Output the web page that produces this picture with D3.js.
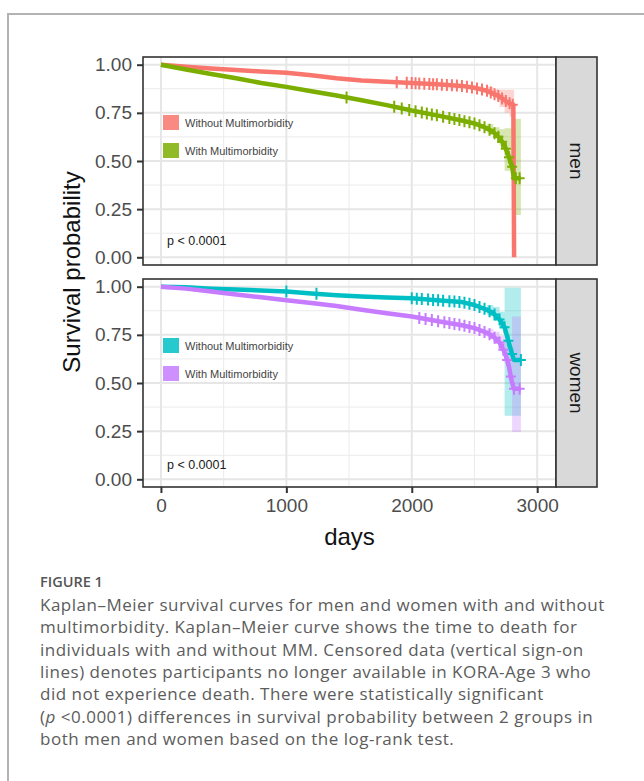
<!DOCTYPE html>
<html>
<head>
<meta charset="utf-8">
<script src="https://cdn.jsdelivr.net/npm/d3@7"></script>
<style>
  body { margin: 0; background: #fff; }
  svg { display: block; }
</style>
</head>
<body>
<svg width="644" height="781"></svg>
<script>
// survival curves
const menWithoutT = [0, 200, 400, 600, 800, 1000, 1200, 1400, 1600, 1800, 2000, 2200, 2400, 2500, 2600, 2650, 2700, 2740, 2780, 2810, 2816];
const menWithoutS = [1, 0.99, 0.98, 0.972, 0.965, 0.958, 0.945, 0.93, 0.918, 0.912, 0.905, 0.898, 0.89, 0.88, 0.865, 0.85, 0.835, 0.815, 0.8, 0.79, 0];
const menWithoutLo = [1, 0.987, 0.976, 0.967, 0.959, 0.951, 0.937, 0.921, 0.908, 0.901, 0.893, 0.885, 0.875, 0.862, 0.845, 0.83, 0.78, 0.75, 0.73, 0.73, 0];
const menWithoutHi = [1, 0.993, 0.984, 0.977, 0.971, 0.965, 0.953, 0.939, 0.928, 0.923, 0.917, 0.911, 0.905, 0.898, 0.885, 0.872, 0.87, 0.87, 0.87, 0.87, 0];

const menWithT = [0, 200, 400, 600, 800, 1000, 1200, 1400, 1600, 1800, 2000, 2200, 2400, 2500, 2600, 2650, 2700, 2740, 2770, 2800, 2815, 2870];
const menWithS = [1, 0.975, 0.952, 0.93, 0.905, 0.885, 0.862, 0.84, 0.815, 0.79, 0.762, 0.737, 0.71, 0.695, 0.67, 0.65, 0.62, 0.58, 0.53, 0.47, 0.41, 0.41];
const menWithLo = [1, 0.971, 0.947, 0.924, 0.898, 0.877, 0.853, 0.83, 0.804, 0.778, 0.749, 0.722, 0.694, 0.677, 0.648, 0.625, 0.58, 0.45, 0.45, 0.3, 0.22, 0.22];
const menWithHi = [1, 0.979, 0.957, 0.936, 0.912, 0.893, 0.871, 0.85, 0.826, 0.802, 0.775, 0.752, 0.726, 0.713, 0.692, 0.675, 0.665, 0.67, 0.67, 0.72, 0.72, 0.72];

const womenWithoutT = [0, 200, 400, 600, 800, 1000, 1200, 1400, 1600, 1800, 2000, 2200, 2400, 2500, 2600, 2650, 2700, 2740, 2770, 2800, 2815, 2870];
const womenWithoutS = [1, 0.997, 0.99, 0.985, 0.98, 0.975, 0.965, 0.956, 0.949, 0.944, 0.94, 0.93, 0.92, 0.905, 0.88, 0.862, 0.83, 0.79, 0.72, 0.65, 0.62, 0.62];
const womenWithoutLo = [1, 0.995, 0.986, 0.98, 0.974, 0.968, 0.957, 0.946, 0.938, 0.932, 0.927, 0.915, 0.903, 0.885, 0.855, 0.83, 0.78, 0.33, 0.33, 0.33, 0.33, 0.33];
const womenWithoutHi = [1, 0.999, 0.994, 0.99, 0.986, 0.982, 0.973, 0.966, 0.96, 0.956, 0.953, 0.945, 0.937, 0.925, 0.905, 0.894, 0.87, 0.995, 0.995, 0.995, 0.995, 0.995];

const womenWithT = [0, 200, 400, 600, 800, 1000, 1200, 1400, 1600, 1800, 2000, 2200, 2400, 2500, 2600, 2650, 2700, 2740, 2770, 2800, 2815, 2870];
const womenWithS = [1, 0.99, 0.975, 0.96, 0.945, 0.93, 0.915, 0.9, 0.88, 0.862, 0.845, 0.822, 0.8, 0.785, 0.76, 0.742, 0.71, 0.66, 0.6, 0.5, 0.47, 0.47];
const womenWithLo = [1, 0.987, 0.971, 0.955, 0.939, 0.923, 0.907, 0.891, 0.87, 0.851, 0.833, 0.808, 0.784, 0.767, 0.738, 0.716, 0.675, 0.6, 0.52, 0.245, 0.245, 0.245];
const womenWithHi = [1, 0.993, 0.979, 0.965, 0.951, 0.937, 0.923, 0.909, 0.89, 0.873, 0.857, 0.836, 0.816, 0.803, 0.782, 0.768, 0.745, 0.72, 0.68, 0.845, 0.845, 0.845];

// censoring times (plus marks)
const menWithoutCens = [1880, 1960, 2000, 2030, 2060, 2100, 2140, 2170, 2200, 2240, 2280, 2320, 2360, 2400, 2440, 2480, 2520, 2560, 2600, 2630, 2660, 2690, 2720, 2750, 2780, 2805];
const menWithCens = [1480, 1860, 1920, 1980, 2030, 2080, 2120, 2160, 2200, 2250, 2300, 2340, 2380, 2420, 2460, 2500, 2540, 2580, 2620, 2660, 2690, 2720, 2750, 2775, 2800, 2830, 2860];
const womenWithoutCens = [1000, 1240, 2000, 2040, 2080, 2130, 2170, 2210, 2250, 2300, 2340, 2380, 2420, 2460, 2500, 2540, 2580, 2620, 2660, 2700, 2740, 2770, 2800, 2870];
const womenWithCens = [2060, 2110, 2160, 2210, 2260, 2300, 2340, 2380, 2420, 2460, 2500, 2540, 2580, 2620, 2660, 2700, 2730, 2760, 2790, 2815, 2860];

const xTicks = [0, 1000, 2000, 3000];
const yTicks = [0, 0.25, 0.5, 0.75, 1];
const groupLabels = ['Without Multimorbidity', 'With Multimorbidity'];
const pText = 'p < 0.0001';

const captionTitle = 'FIGURE 1';
const captionLines = [
  'Kaplan\u2013Meier survival curves for men and women with and without',
  'multimorbidity. Kaplan\u2013Meier curve shows the time to death for',
  'individuals with and without MM. Censored data (vertical sign-on',
  'lines) denotes participants no longer available in KORA-Age 3 who',
  'did not experience death. There were statistically significant',
  '(<i>p</i> <0.0001) differences in survival probability between 2 groups in',
  'both men and women based on the log-rank test.'
];

const zip = (t, s, lo, hi) => t.map((d, i) => ({ t: d, s: s[i], lo: lo[i], hi: hi[i] }));

const panels = [
  {
    label: 'men', top: 57, bottom: 265,
    curves: [
      { color: '#F8766D', data: zip(menWithoutT, menWithoutS, menWithoutLo, menWithoutHi), cens: menWithoutCens },
      { color: '#7CAE00', data: zip(menWithT, menWithS, menWithLo, menWithHi), cens: menWithCens }
    ]
  },
  {
    label: 'women', top: 279, bottom: 487,
    curves: [
      { color: '#00BFC4', data: zip(womenWithoutT, womenWithoutS, womenWithoutLo, womenWithoutHi), cens: womenWithoutCens },
      { color: '#C77CFF', data: zip(womenWithT, womenWithS, womenWithLo, womenWithHi), cens: womenWithCens }
    ]
  }
];

const svg = d3.select('svg');
const font = '"Liberation Sans", Arial, sans-serif';
const left = 143, right = 556, stripW = 41;

// page frame
svg.append('line').attr('x1', 8).attr('x2', 644).attr('y1', 14).attr('y2', 14)
  .attr('stroke', '#b3b3b3').attr('stroke-width', 2);
svg.append('line').attr('x1', 8).attr('x2', 8).attr('y1', 13).attr('y2', 781)
  .attr('stroke', '#b3b3b3').attr('stroke-width', 2);

const x = d3.scaleLinear().domain([-143, 3150]).range([left, right]);

// value of the curve at time t, for placing censor marks
const valueAt = (data, t) => {
  for (let i = 1; i < data.length; i++) {
    if (t <= data[i].t) {
      const a = data[i - 1], b = data[i];
      return a.s + (b.s - a.s) * (t - a.t) / (b.t - a.t);
    }
  }
  return data[data.length - 1].s;
};

panels.forEach((p, pi) => {
  const y = d3.scaleLinear().domain([-0.04, 1.04]).range([p.bottom, p.top]);
  const g = svg.append('g');

  g.append('rect').attr('x', left).attr('y', p.top)
    .attr('width', right - left).attr('height', p.bottom - p.top).attr('fill', '#fff');

  // minor grid
  [500, 1500, 2500].forEach(v => g.append('line')
    .attr('x1', x(v)).attr('x2', x(v)).attr('y1', p.top).attr('y2', p.bottom)
    .attr('stroke', '#ebebeb').attr('stroke-width', 1));
  [0.125, 0.375, 0.625, 0.875].forEach(v => g.append('line')
    .attr('x1', left).attr('x2', right).attr('y1', y(v)).attr('y2', y(v))
    .attr('stroke', '#ebebeb').attr('stroke-width', 1));
  // major grid
  xTicks.forEach(v => g.append('line')
    .attr('x1', x(v)).attr('x2', x(v)).attr('y1', p.top).attr('y2', p.bottom)
    .attr('stroke', '#e6e6e6').attr('stroke-width', 2));
  yTicks.forEach(v => g.append('line')
    .attr('x1', left).attr('x2', right).attr('y1', y(v)).attr('y2', y(v))
    .attr('stroke', '#e6e6e6').attr('stroke-width', 2));

  // confidence band only shows beyond the line width near the tail
  const area = d3.area().curve(d3.curveStepAfter)
    .defined(d => d.t >= 2600)
    .x(d => x(d.t)).y0(d => y(d.lo)).y1(d => y(d.hi));
  const line = d3.line()
    .x(d => x(d.t)).y(d => y(d.s));

  p.curves.forEach(c => {
    g.append('path').attr('d', area(c.data))
      .attr('fill', c.color).attr('fill-opacity', 0.3);
  });
  p.curves.forEach(c => {
    g.append('path').attr('d', line(c.data))
      .attr('fill', 'none').attr('stroke', c.color).attr('stroke-width', 4.5)
      .attr('stroke-linejoin', 'round');
    c.cens.forEach(t => {
      const cx = x(t), cy = y(valueAt(c.data, t));
      g.append('path').attr('d', `M${cx - 5},${cy}H${cx + 5}M${cx},${cy - 6}V${cy + 6}`)
        .attr('stroke', c.color).attr('stroke-width', 2);
    });
  });

  // legend
  p.curves.forEach((c, i) => {
    const ly = (pi === 0 ? 115 : 338) + i * 28;
    g.append('rect').attr('x', 163).attr('y', ly).attr('width', 16).attr('height', 15)
      .attr('fill', c.color).attr('opacity', 0.85);
    g.append('text').attr('x', 185).attr('y', ly + 11.5)
      .attr('font-family', font).attr('font-size', 11).attr('fill', '#444')
      .text(groupLabels[i]);
  });
  g.append('text').attr('x', 167).attr('y', pi === 0 ? 245 : 469)
    .attr('font-family', font).attr('font-size', 12.5).attr('fill', '#1a1a1a')
    .text(pText);

  // panel border
  g.append('rect').attr('x', left).attr('y', p.top)
    .attr('width', right - left).attr('height', p.bottom - p.top)
    .attr('fill', 'none').attr('stroke', '#333').attr('stroke-width', 1.6);

  // strip
  g.append('rect').attr('x', right).attr('y', p.top)
    .attr('width', stripW).attr('height', p.bottom - p.top)
    .attr('fill', '#d9d9d9').attr('stroke', '#333').attr('stroke-width', 1.6);
  g.append('text')
    .attr('transform', `translate(${right + stripW / 2},${(p.top + p.bottom) / 2}) rotate(90)`)
    .attr('text-anchor', 'middle').attr('dy', '0.35em')
    .attr('font-family', font).attr('font-size', 19).attr('fill', '#1a1a1a')
    .text(p.label);

  // y axis
  const yAxis = g.append('g').attr('transform', `translate(${left},0)`)
    .call(d3.axisLeft(y).tickValues(yTicks).tickFormat(d3.format('.2f')).tickSize(6).tickPadding(5));
  yAxis.select('.domain').remove();
  yAxis.selectAll('line').attr('stroke', '#333').attr('stroke-width', 2);
  yAxis.selectAll('text').attr('font-family', font).attr('font-size', 19).attr('fill', '#4d4d4d');

  if (pi === 1) {
    const xAxis = g.append('g').attr('transform', `translate(0,${p.bottom})`)
      .call(d3.axisBottom(x).tickValues(xTicks).tickFormat(d3.format('d')).tickSize(6).tickPadding(6));
    xAxis.select('.domain').remove();
    xAxis.selectAll('line').attr('stroke', '#333').attr('stroke-width', 2);
    xAxis.selectAll('text').attr('font-family', font).attr('font-size', 19).attr('fill', '#4d4d4d');
  }
});

// axis titles
svg.append('text')
  .attr('transform', 'translate(72,272) rotate(-90)')
  .attr('text-anchor', 'middle').attr('dy', '0.35em')
  .attr('font-family', font).attr('font-size', 24).attr('fill', '#111')
  .text('Survival probability');
svg.append('text').attr('x', (left + right) / 2).attr('y', 545)
  .attr('text-anchor', 'middle')
  .attr('font-family', font).attr('font-size', 24).attr('fill', '#111')
  .text('days');

// caption
const capFont = '"Open Sans", "Noto Sans", sans-serif';
svg.append('text').attr('x', 40).attr('y', 587)
  .attr('font-family', capFont).attr('font-size', 14.5).attr('font-weight', 600)
  .attr('fill', '#555').text(captionTitle);
captionLines.forEach((l, i) => {
  const t = svg.append('text').attr('x', 40).attr('y', 611 + i * 22.3)
    .attr('font-family', capFont).attr('font-size', 17).attr('letter-spacing', 0.5)
    .attr('fill', '#5c5c5c');
  if (l.startsWith('(<i>')) {
    t.append('tspan').text('(');
    t.append('tspan').attr('font-style', 'italic').text('p');
    t.append('tspan').text(l.replace('(<i>p</i>', ''));
  } else {
    t.text(l);
  }
});
</script>
</body>
</html>
